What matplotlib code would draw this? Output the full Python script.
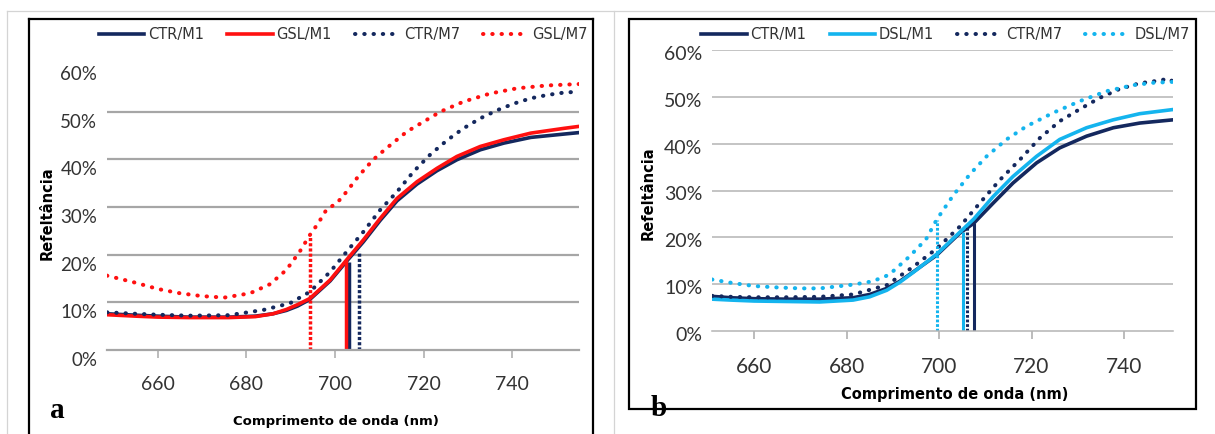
import matplotlib
matplotlib.use("Agg")
import matplotlib.pyplot as plt
import matplotlib.transforms as mtrans
from matplotlib.lines import Line2D
from matplotlib.patches import Rectangle

# ---- data ----
# panel a
wl_a_m1 = [648.5, 655, 660, 667, 676, 682, 686, 689, 691.5, 694.3, 698.9, 702.6, 706.4,
           710.2, 714, 718.5, 723, 727.5, 732.8, 738.1, 744.2, 751.7, 755]
ctr_m1_a = [7.6, 7.3, 7.1, 6.9, 6.9, 7.1, 7.6, 8.3, 9.2, 10.6, 14.5, 18.6, 22.7,
            27.2, 31.3, 34.8, 37.6, 39.9, 42.0, 43.4, 44.6, 45.3, 45.6]
gsl_m1_a = [7.4, 7.1, 6.9, 6.8, 6.8, 7.0, 7.6, 8.5, 9.5, 10.8, 14.7, 18.9, 23.1,
            27.6, 31.8, 35.3, 38.1, 40.6, 42.7, 44.1, 45.5, 46.5, 46.9]
wl_a_ctr7 = [648.5, 655, 660, 667, 676, 683.8, 689.8, 694.3, 698.9, 702.6, 706.4,
             710.2, 714, 717.7, 721.5, 725.3, 729, 732.8, 736.6, 740.4, 744.2,
             747.9, 751.7, 755.2]
ctr_m7_a = [7.9, 7.6, 7.4, 7.2, 7.3, 8.4, 9.8, 12.2, 16.4, 20.6, 24.8,
            29.4, 33.2, 37.4, 41.0, 44.0, 46.5, 48.6, 50.3, 51.7, 52.8,
            53.5, 54.0, 54.2]
wl_a_gsl7 = [648.5, 652, 655, 660, 665, 670, 675, 680.8, 685.3, 689, 692, 694.3,
             696.2, 698.1, 700.4, 702.6, 704.9, 707.2, 709.4, 712.5, 716.2, 720,
             723.8, 729, 735, 741.1, 747.9, 755.2]
gsl_m7_a = [15.6, 14.8, 14.1, 12.8, 11.9, 11.3, 11.0, 11.9, 13.8, 16.8, 20.6, 24.1,
            26.6, 29.5, 30.8, 33.2, 36.0, 38.5, 40.6, 43.0, 45.8, 47.9,
            50.0, 52.1, 53.8, 54.9, 55.5, 55.8]
edge_a = [703.2, 702.5, 705.4, 694.3]      # CTR/M1, GSL/M1, CTR/M7, GSL/M7
edge_top_a = [18.5, 18.9, 20.8, 23.8]

# panel b
wl_b_m1 = [650.9, 655, 660, 667, 674.2, 681.4, 685, 688.7, 691.5, 694.4, 699.5, 704.5, 707.5,
           711.7, 716, 721.1, 726.1, 731.9, 737.7, 743.4, 750.7]
ctr_m1_b = [7.4, 7.1, 6.9, 6.8, 6.8, 7.1, 7.8, 9.1, 10.6, 12.6, 16.2, 20.9, 23.0,
            27.3, 31.6, 35.9, 39.1, 41.6, 43.4, 44.4, 45.1]
dsl_m1_b = [6.8, 6.6, 6.4, 6.3, 6.2, 6.6, 7.3, 8.7, 10.4, 12.5, 16.4, 21.1, 23.9,
            28.7, 33.0, 37.3, 40.9, 43.4, 45.1, 46.4, 47.3]
wl_b_ctr7 = [650.9, 655, 660, 667, 674.2, 681.4, 688.7, 694.4, 699.5, 704.5, 708.8,
             713.2, 717.5, 721.8, 726.1, 730.5, 734.8, 739.1, 743.4, 747.8, 749.6, 750.7]
ctr_m7_b = [7.5, 7.3, 7.2, 7.2, 7.3, 7.8, 9.8, 13.7, 17.6, 22.3, 27.3,
            32.3, 36.6, 41.2, 44.8, 47.4, 49.8, 51.7, 52.9, 53.5, 53.9, 53.2]
wl_b_dsl7 = [650.9, 655, 660, 665, 670, 674.2, 681.4, 685.6, 689.2, 693.6, 697.2,
             699.5, 703.1, 706.7, 710.3, 714.6, 718.9, 724.7, 730.5, 736.2, 742,
             746.3, 750.7]
dsl_m7_b = [11.0, 10.3, 9.6, 9.3, 9.1, 9.1, 9.9, 10.6, 12.0, 15.9, 19.6,
            23.8, 29.0, 33.5, 37.3, 40.9, 43.7, 46.6, 49.1, 51.2, 52.5,
            53.0, 53.2]
edge_b = [707.5, 705.1, 706.1, 699.5]      # CTR/M1, DSL/M1, CTR/M7, DSL/M7
edge_top_b = [23.0, 21.2, 22.3, 23.8]

yticks = [0, 10, 20, 30, 40, 50, 60]
ytick_labels = ["0%", "10%", "20%", "30%", "40%", "50%", "60%"]
xticks = [660, 680, 700, 720, 740]

NAVY = "#14285e"
RED = "#ff1010"
CYAN = "#14b4ee"
DOT = (0, (0.1, 2.2))
VDOT = (0, (0.9, 0.6))

W, H = 1215, 434
fig = plt.figure(figsize=(W / 100, H / 100), dpi=100)


def fx(px):
    return px / W


def fy(py):
    return 1 - py / H


# outer light grey cell borders
for xs, ys in [([7, W], [11, 11]), ([7, 7], [11, H]), ([614, 614], [11, H])]:
    fig.add_artist(Line2D([fx(v) for v in xs], [fy(v) for v in ys],
                          transform=fig.transFigure, color="#d4d4d4", lw=0.9))

# black boxes
for xs, ys in [([29, 29], [19, H]), ([29, 592.7], [19, 19]), ([592.7, 592.7], [19, H])]:
    fig.add_artist(Line2D([fx(v) for v in xs], [fy(v) for v in ys],
                          transform=fig.transFigure, color="black", lw=1.6))
fig.add_artist(Rectangle((fx(629), fy(409)), fx(1196) - fx(629), fy(19) - fy(409),
                         transform=fig.transFigure, fill=False, ec="black", lw=1.6))

ax_a = fig.add_axes([fx(107), fy(350), fx(578.6) - fx(107), fy(64) - fy(350)])
ax_b = fig.add_axes([fx(712), fy(331), fx(1173) - fx(712), fy(50) - fy(331)])


def style(ax, xlim, gridc, gridw, fsx, fsy, yshift):
    ax.set_xlim(*xlim)
    ax.set_ylim(0, 60)
    for s in ["top", "right", "left"]:
        ax.spines[s].set_visible(False)
    ax.spines["bottom"].set_color(gridc)
    ax.spines["bottom"].set_linewidth(gridw)
    ax.set_yticks(yticks)
    ax.set_yticklabels(ytick_labels)
    ax.set_xticks(xticks)
    ax.yaxis.grid(True, color=gridc, lw=gridw)
    ax.set_axisbelow(True)
    ax.tick_params(axis="y", length=0, pad=7, labelsize=fsy, labelcolor="#333333")
    ax.tick_params(axis="x", length=5.5, width=1.1, color="#aaaaaa", direction="out",
                   pad=13, labelsize=fsx, labelcolor="#333333")
    for lab in ax.get_yticklabels() + ax.get_xticklabels():
        lab.set_fontfamily(["Lato", "DejaVu Sans"])
    off = mtrans.ScaledTranslation(0, -yshift / 100, fig.dpi_scale_trans)
    for lab in ax.get_yticklabels():
        lab.set_transform(lab.get_transform() + off)


style(ax_a, (648.5, 755), "#a6a6a6", 1.6, 14, 13.5, 9)
style(ax_b, (650.9, 750.6), "#b4b4b4", 1.1, 15, 14, 3)
ax_a.get_ygridlines()[-1].set_visible(False)
ax_a.get_ygridlines()[0].set_visible(False)
ax_b.get_ygridlines()[0].set_visible(False)

# panel a curves
ax_a.plot(wl_a_m1, ctr_m1_a, color=NAVY, lw=2.6, label="CTR/M1")
ax_a.plot(wl_a_m1, gsl_m1_a, color=RED, lw=2.6, label="GSL/M1")
ax_a.plot(wl_a_ctr7, ctr_m7_a, color=NAVY, lw=2.9, ls=DOT, dash_capstyle="round", label="CTR/M7")
ax_a.plot(wl_a_gsl7, gsl_m7_a, color=RED, lw=2.9, ls=DOT, dash_capstyle="round", label="GSL/M7")
cols_a = [NAVY, RED, NAVY, RED]
styles = ["-", "-", VDOT, VDOT]
for e, t, c, s in zip(edge_a, edge_top_a, cols_a, styles):
    ax_a.vlines(e, 0, t, colors=c, lw=2.5, linestyles=s)

# panel b curves
ax_b.plot(wl_b_m1, ctr_m1_b, color=NAVY, lw=2.6, label="CTR/M1")
ax_b.plot(wl_b_m1, dsl_m1_b, color=CYAN, lw=2.6, label="DSL/M1")
ax_b.plot(wl_b_ctr7, ctr_m7_b, color=NAVY, lw=2.9, ls=DOT, dash_capstyle="round", label="CTR/M7")
ax_b.plot(wl_b_dsl7, dsl_m7_b, color=CYAN, lw=2.9, ls=DOT, dash_capstyle="round", label="DSL/M7")
cols_b = [NAVY, CYAN, NAVY, CYAN]
for e, t, c, s in zip(edge_b, edge_top_b, cols_b, styles):
    ax_b.vlines(e, 0, t, colors=c, lw=2.2, linestyles=s)

for ax, cx in [(ax_a, 343.5), (ax_b, 945.5)]:
    leg = ax.legend(ncol=4, loc="center", bbox_to_anchor=(fx(cx), fy(35)),
                    bbox_transform=fig.transFigure, frameon=False,
                    handlelength=3.1, handletextpad=0.25, columnspacing=1.6,
                    prop={"family": "DejaVu Sans", "size": 10.5})
    for t in leg.get_texts():
        t.set_color("#333333")

# axis titles
lab_kw = dict(family="DejaVu Sans", weight="bold", color="black")
fig.text(fx(47), fy(213), "Refeltância", rotation=90, ha="center", va="center",
         size=10.5, **lab_kw)
fig.text(fx(648), fy(193), "Refeltância", rotation=90, ha="center", va="center",
         size=10.5, **lab_kw)
fig.text(fx(336), fy(422), "Comprimento de onda (nm)", ha="center", va="center",
         size=9.5, **lab_kw)
fig.text(fx(955), fy(395), "Comprimento de onda (nm)", ha="center", va="center",
         size=10.5, **lab_kw)

# panel letters
fig.text(fx(57), fy(410), "a", ha="center", va="center", size=21,
         family="Liberation Serif", weight="bold")
fig.text(fx(659), fy(408), "b", ha="center", va="center", size=21,
         family="Liberation Serif", weight="bold")

fig.savefig("out.png", dpi=100)
